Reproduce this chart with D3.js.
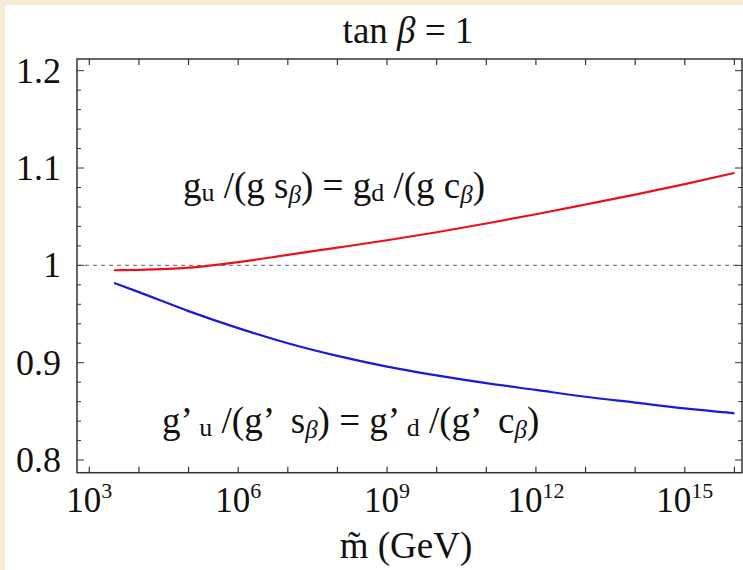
<!DOCTYPE html>
<html>
<head>
<meta charset="utf-8">
<script src="https://cdn.jsdelivr.net/npm/d3@7"></script>
<style>
  body { margin: 0; background: #f9ecd6; }
  svg { display: block; font-family: "Liberation Serif", "Times New Roman", serif; }
</style>
</head>
<body>
<div id="chart"></div>
<script>
var logM = [3.5, 4, 5, 6, 7, 8, 9, 10, 11, 12, 13, 14, 15, 16];
// g_u/(g s_beta) = g_d/(g c_beta)
var ratioG = [0.995, 0.9954, 0.9976, 1.0033, 1.0108, 1.0182, 1.0258, 1.034, 1.043, 1.0525, 1.0625, 1.0727, 1.0835, 1.095];
// g'_u/(g' s_beta) = g'_d/(g' c_beta)
var ratioGp = [0.982, 0.9725, 0.953, 0.9355, 0.920, 0.907, 0.896, 0.887, 0.879, 0.872, 0.865, 0.859, 0.853, 0.848];

var yTicks = [0.8, 0.9, 1, 1.1, 1.2];
var yTickLabels = ["0.8", "0.9", "1", "1.1", "1.2"];
var xLabelExps = [3, 6, 9, 12, 15];
var xTickExps = [3, 4, 5, 6, 7, 8, 9, 10, 11, 12, 13, 14, 15, 16];

var width = 743;
var height = 570;
var pLeft = 77, pRight = 742, pTop = 59, pBottom = 472.7;

var svg = d3.select("#chart")
  .append("svg")
  .attr("width", width)
  .attr("height", height)

// white panel, beige shows on top and left edge
svg.append("rect")
  .attr("x", 5).attr("y", 5)
  .attr("width", width - 5).attr("height", height - 5)
  .attr("fill", "white")

var x = d3.scaleLog().domain([Math.pow(10, 2.752), Math.pow(10, 16.153)]).range([pLeft, pRight])
var y = d3.scaleLinear().domain([0.787, 1.212]).range([pBottom, pTop])

// dashed reference line at 1
svg.append("line")
  .attr("x1", pLeft).attr("x2", pRight)
  .attr("y1", y(1)).attr("y2", y(1))
  .attr("stroke", "#808080")
  .attr("stroke-width", 1.1)
  .attr("stroke-dasharray", "4,4")

var line = d3.line()
  .x(function (d) { return x(Math.pow(10, d[0])) })
  .y(function (d) { return y(d[1]) })
  .curve(d3.curveMonotoneX)

svg.append("path")
  .datum(logM.map(function (m, i) { return [m, ratioG[i]] }))
  .attr("d", line)
  .attr("fill", "none")
  .attr("stroke", "#e8121c")
  .attr("stroke-width", 2.2)

svg.append("path")
  .datum(logM.map(function (m, i) { return [m, ratioGp[i]] }))
  .attr("d", line)
  .attr("fill", "none")
  .attr("stroke", "#1a1ad8")
  .attr("stroke-width", 2.2)

// frame
svg.append("rect")
  .attr("x", pLeft).attr("y", pTop)
  .attr("width", pRight - pLeft).attr("height", pBottom - pTop)
  .attr("fill", "none")
  .attr("stroke", "#333")
  .attr("stroke-width", 1.5)

// x ticks (inward, top and bottom)
var xt = xTickExps.map(function (e) { return x(Math.pow(10, e)) })
svg.selectAll(".xtb").data(xt).enter().append("line")
  .attr("x1", function (d) { return d }).attr("x2", function (d) { return d })
  .attr("y1", pBottom).attr("y2", pBottom - 6)
  .attr("stroke", "#333").attr("stroke-width", 1.2)
svg.selectAll(".xtt").data(xt).enter().append("line")
  .attr("x1", function (d) { return d }).attr("x2", function (d) { return d })
  .attr("y1", pTop).attr("y2", pTop + 6)
  .attr("stroke", "#333").attr("stroke-width", 1.2)

// y ticks, major every 0.1, minor every 0.02
var yMinor = d3.range(0, 21).map(function (i) { return 0.8 + i * 0.02 })
svg.selectAll(".ytl").data(yMinor).enter().append("line")
  .attr("x1", pLeft)
  .attr("x2", function (d, i) { return pLeft + (i % 5 === 0 ? 7 : 4) })
  .attr("y1", function (d) { return y(d) }).attr("y2", function (d) { return y(d) })
  .attr("stroke", "#333").attr("stroke-width", 1)
svg.selectAll(".ytr").data(yMinor).enter().append("line")
  .attr("x1", pRight)
  .attr("x2", function (d, i) { return pRight - (i % 5 === 0 ? 7 : 4) })
  .attr("y1", function (d) { return y(d) }).attr("y2", function (d) { return y(d) })
  .attr("stroke", "#333").attr("stroke-width", 1)

// y tick labels
svg.selectAll(".ylab").data(yTicks).enter().append("text")
  .attr("x", 61)
  .attr("y", function (d) { return y(d) + 12 })
  .attr("text-anchor", "end")
  .attr("font-size", 36)
  .attr("fill", "#111")
  .text(function (d, i) { return yTickLabels[i] })

// x tick labels 10^n
var xl = svg.selectAll(".xlab").data(xLabelExps).enter().append("text")
  .attr("x", function (d) { return x(Math.pow(10, d)) })
  .attr("y", 512)
  .attr("text-anchor", "middle")
  .attr("font-size", 35)
  .attr("fill", "#111")
xl.append("tspan").text("10")
xl.append("tspan")
  .attr("font-size", 22)
  .attr("dy", -14)
  .text(function (d) { return d })

// title
var title = svg.append("text")
  .attr("x", 408).attr("y", 43)
  .attr("text-anchor", "middle")
  .attr("font-size", 37)
  .attr("fill", "#111")
title.append("tspan").text("tan ")
title.append("tspan").attr("font-style", "italic").text("\u03b2")
title.append("tspan").text(" = 1")

// axis title
svg.append("text")
  .attr("x", 406).attr("y", 558)
  .attr("text-anchor", "middle")
  .attr("font-size", 37)
  .attr("fill", "#111")
  .text("m\u0303 (GeV)")

// curve labels: pieces of [text, kind]
function label(xp, yp, parts) {
  var t = svg.append("text")
    .attr("x", xp).attr("y", yp)
    .attr("font-size", 37)
    .attr("fill", "#111")
  var shift = 0
  parts.forEach(function (p) {
    var s = t.append("tspan").text(p[0])
    var target = 0
    if (p[1] === "sub") { s.attr("font-size", 26); target = 3 }
    if (p[1] === "beta") { s.attr("font-size", 25).attr("font-style", "italic"); target = 5 }
    s.attr("dy", target - shift)
    shift = target
  })
  return t
}

label(183, 198, [["g", ""], ["u", "sub"], [" /(g s", ""], ["\u03b2", "beta"], [") = g", ""], ["d", "sub"], [" /(g c", ""], ["\u03b2", "beta"], [")", ""]])
label(162, 433, [["g\u2019 ", ""], ["u", "sub"], [" /(g\u2019  s", ""], ["\u03b2", "beta"], [") = g\u2019 ", ""], ["d", "sub"], [" /(g\u2019  c", ""], ["\u03b2", "beta"], [")", ""]])
  .attr("xml:space", "preserve")
  .style("white-space", "pre")
</script>
</body>
</html>
